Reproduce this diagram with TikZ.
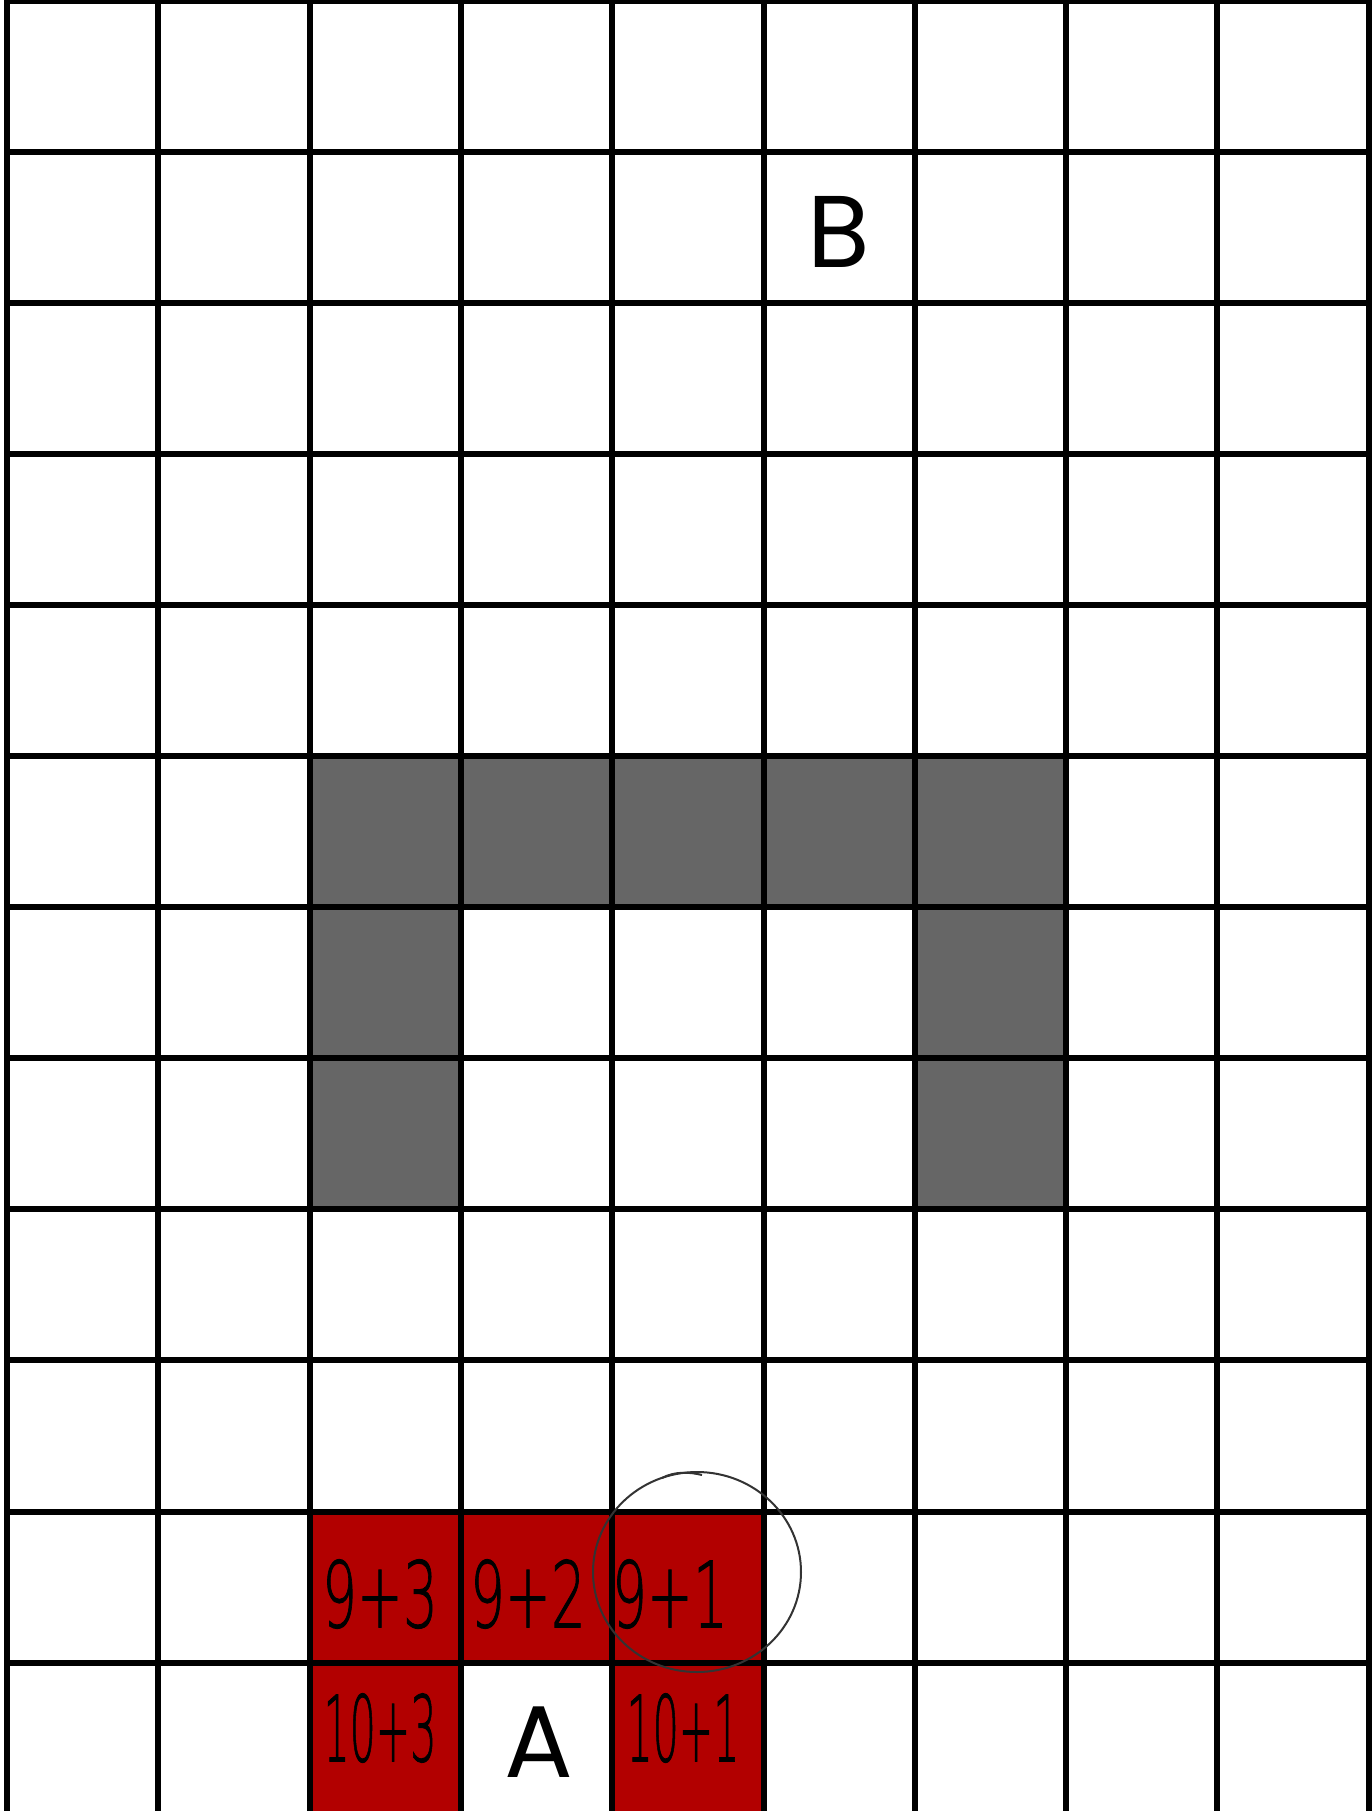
\documentclass[tikz,border=0pt]{standalone}
\usepackage{fontspec}
\setmainfont{Poppins}
\newfontfamily\hand{DejaVu Sans ExtraLight}[BoldFont=DejaVu Sans ExtraLight, BoldFeatures={FakeBold=1.2}]
\definecolor{cellred}{RGB}{178,0,0}
\definecolor{wallgray}{RGB}{102,102,102}
\begin{document}
\begin{tikzpicture}[x=0.01cm,y=-0.01cm,
  gridline/.style={line width=0.06cm, black},
  wallcell/.style={fill=wallgray},
  redcell/.style={fill=cellred},
  letter/.style={font=\fontsize{29}{32}\selectfont, inner sep=0},
  hw/.style={font=\hand\bfseries\fontsize{26}{28}\selectfont, inner sep=0, xscale=0.6},
  hwwide/.style={hw, xscale=0.75},
  circ/.style={draw=black!80, line width=0.02cm}]
\useasboundingbox (0,0) rectangle (1372,1811);
\clip (0,0) rectangle (1372,1811);
\fill[white] (0,0) rectangle (1372,1811);
% wall cells
\foreach \c in {2,...,6} \fill[wallcell] ({7+151.3*\c},{0.5+151.1*5}) rectangle ++(151.3,151.1);
\foreach \r in {6,7} \foreach \c in {2,6} \fill[wallcell] ({7+151.3*\c},{0.5+151.1*\r}) rectangle ++(151.3,151.1);
% red cells
\foreach \c in {2,3,4} \fill[redcell] ({7+151.3*\c},{0.5+151.1*10}) rectangle ++(151.3,151.1);
\foreach \c in {2,4} \fill[redcell] ({7+151.3*\c},{0.5+151.1*11}) rectangle ++(151.3,151.1);
% grid
\foreach \i in {0,...,9} \draw[gridline] ({7+151.3*\i},0) -- ({7+151.3*\i},1811);
\foreach \j in {0,...,11} \draw[gridline] (7,{0.5+151.1*\j}) -- (1369,{0.5+151.1*\j});
% letters
\node[letter] (B) at (839,232) {B};
\node[letter] (A) at (539,1742) {A};
% handwritten labels
\node[hw] (n93) at (380,1594) {9+3};
\node[hw] (n92) at (528,1594) {9+2};
\node[hw] (n91) at (670,1594) {9+1};
\node[hw, xscale=0.75] (n103) at (380,1728) {10+3};
\node[hw, xscale=0.75] (n101) at (683,1728) {10+1};
% circle
\draw[circ] (697,1572) ellipse [x radius=104, y radius=100];
\draw[circ] (662,1478) .. controls (675,1471) and (690,1472) .. (702,1475);
\end{tikzpicture}
\end{document}
